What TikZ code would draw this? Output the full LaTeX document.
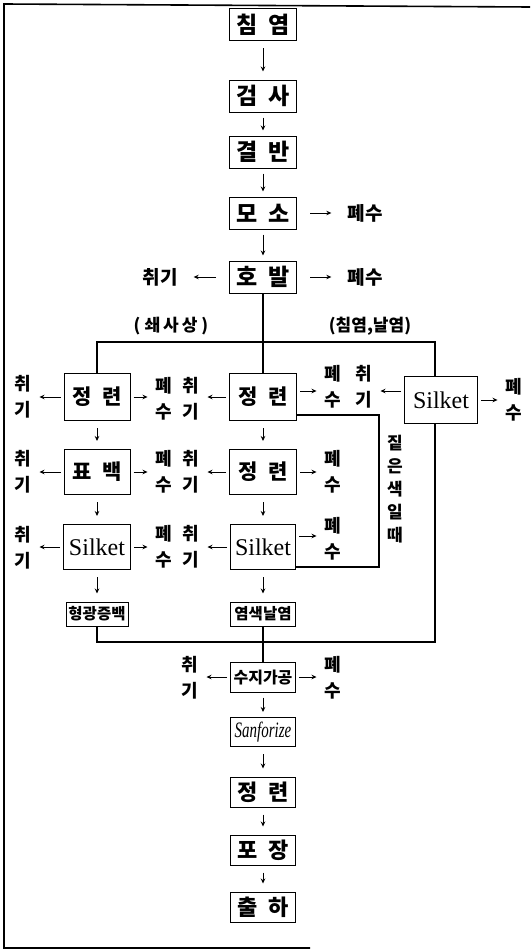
\documentclass[tikz,border=0pt]{standalone}
\usepackage{fontspec}
\usepackage{graphicx}
\setmainfont{Liberation Serif}
\newfontfamily\krfont{Noto Sans CJK KR}
\usetikzlibrary{arrows.meta}
\newcommand{\kgap}{\hspace{11pt}}
\begin{document}
\begin{tikzpicture}[x=1pt,y=-1pt,
  box/.style={draw,line width=1pt,minimum width=67pt,minimum height=32pt,inner sep=0pt,font=\krfont\bfseries\fontsize{23}{23}\selectfont},
  rbox/.style={box,minimum width=66pt,minimum height=47pt,font=\krfont\bfseries\fontsize{21}{21}\selectfont},
  sil/.style={box,minimum height=46pt,font=\mdseries\fontsize{24}{24}\selectfont},
  sbox/.style={box,minimum width=64pt,minimum height=24pt,font=\krfont\bfseries\fontsize{15.5}{15.5}\selectfont},
  lab/.style={inner sep=0pt,align=center,font=\krfont\bfseries\fontsize{18}{26}\selectfont},
  hlab/.style={inner sep=0pt,font=\krfont\bfseries\fontsize{19}{19}\selectfont},
  plab/.style={inner sep=0pt,font=\krfont\bfseries\fontsize{17}{17}\selectfont},
  arr/.style={line width=0.8pt,-{Stealth[length=5pt,width=4.5pt]}},
  harr/.style={arr,shorten <=3pt,shorten >=8pt},
  harrW/.style={arr,shorten <=13pt,shorten >=16pt},
  varr/.style={arr,shorten <=7pt,shorten >=8pt},
  sarr/.style={arr,shorten <=5pt,shorten >=5pt},
  conn/.style={line width=1.5pt},
  frame/.style={line width=1.6pt}
]
\useasboundingbox (0,0) rectangle (530,950);
% frame
\draw[frame] (530,7) -- (4,4) -- (4,948) -- (310,948);

% main column top
\node[box] (chim) at (263,25) {침\kgap 염};
\node[box] (geom) at (263,96) {검\kgap 사};
\node[box] (gyeol) at (263,152) {결\kgap 반};
\node[box] (moso) at (263,213) {모\kgap 소};
\node[box] (hobal) at (263,277) {호\kgap 발};
\draw[varr] (chim) -- (geom);
\draw[sarr] (geom) -- (gyeol);
\draw[sarr] (gyeol) -- (moso);
\draw[sarr] (moso) -- (hobal);

\node[hlab] (mosoW) at (365,213) {폐수};
\node[hlab] (hobalW) at (365,277) {폐수};
\node[hlab] (hobalA) at (160,277) {취기};
\draw[harrW] (moso) -- (mosoW);
\draw[harrW] (hobal) -- (hobalW);
\draw[harrW] (hobal) -- (hobalA);

\node[plab] (pl1) at (171,326) {(\hspace{4pt}쇄\hspace{3pt}사\hspace{3pt}상\hspace{4pt})};
\node[plab] (pl2) at (370,326) {(침염,날염)};

% row 1
\node[rbox] (L1) at (97,397) {정\kgap 련};
\node[rbox,minimum width=67pt] (C1) at (263,397) {정\kgap 련};
\node[sil,minimum width=73pt,minimum height=47pt] (R1) at (441,400) {Silket};
\node[lab] (L1a) at (23,397) {취\\기};
\node[lab] (L1w) at (164,399) {폐\\수};
\node[lab] (C1a) at (191,399) {취\\기};
\node[lab] (C1w) at (333,387) {폐\\수};
\node[lab] (R1a) at (364,387) {취\\기};
\node[lab] (R1w) at (514,400) {폐\\수};
\coordinate (c1e) at (297,391);
\coordinate (r1w) at (404,391);
\draw[harr] (L1.west) -- (L1.west -| L1a.east);
\draw[harr] (L1.east) -- (L1.east -| L1w.west);
\draw[harr] (C1.west) -- (C1.west -| C1a.east);
\draw[harr] (c1e) -- (c1e -| C1w.west);
\draw[harr] (r1w) -- (r1w -| R1a.east);
\draw[harr] (R1.east) -- (R1.east -| R1w.west);

% split from 호발
\coordinate (sL) at (97,342);
\coordinate (sR) at (435,342);
\draw[conn] (hobal.south) -- (C1.north);
\draw[conn] (L1.north) -- (sL) -- (sR) -- (sR |- R1.north);

% row 2
\node[rbox,minimum height=45pt] (L2) at (97,472) {표\kgap 백};
\node[rbox,minimum width=67pt,minimum height=45pt] (C2) at (263,472) {정\kgap 련};
\node[lab] (L2a) at (23,472) {취\\기};
\node[lab] (L2w) at (164,472) {폐\\수};
\node[lab] (C2a) at (191,472) {취\\기};
\node[lab] (C2w) at (333,472) {폐\\수};
\draw[harr] (L2.west) -- (L2.west -| L2a.east);
\draw[harr] (L2.east) -- (L2.east -| L2w.west);
\draw[harr] (C2.west) -- (C2.west -| C2a.east);
\draw[harr] (C2.east) -- (C2.east -| C2w.west);
\draw[varr] (L1) -- (L2);
\draw[varr] (C1) -- (C2);

% row 3
\node[sil,minimum width=67pt,minimum height=45pt] (L3) at (97,547) {Silket};
\node[sil,minimum width=65pt,minimum height=45pt] (C3) at (263,547) {Silket};
\node[lab] (L3a) at (23,548) {취\\기};
\node[lab] (L3w) at (164,547) {폐\\수};
\node[lab] (C3a) at (191,547) {취\\기};
\node[lab] (C3w) at (333,539) {폐\\수};
\coordinate (c3e) at (296,536);
\draw[harr] (L3.west) -- (L3.west -| L3a.east);
\draw[harr] (L3.east) -- (L3.east -| L3w.west);
\draw[harr] (C3.west) -- (C3.west -| C3a.east);
\draw[harr] (c3e) -- (c3e -| C3w.west);
\draw[varr] (L2) -- (L3);
\draw[varr] (C2) -- (C3);

% dark-colour loop
\coordinate (lp1) at (379,415);
\coordinate (lp2) at (379,567);
\draw[conn] (C1.east |- lp1) -- (lp1) -- (lp2) -- (C3.east |- lp2);
\node[lab,font=\krfont\bfseries\fontsize{17}{23}\selectfont] (dark) at (395,489) {짙\\은\\색\\일\\때};

% row 4
\node[sbox,minimum width=62pt] (L4) at (97,614) {형광증백};
\node[sbox,minimum width=65pt] (C4) at (263,614) {염색날염};
\draw[varr] (L3) -- (L4);
\draw[varr] (C3) -- (C4);

% merge
\coordinate (mR) at (435,642);
\node[box,minimum width=65pt,minimum height=30pt,font=\krfont\bfseries\fontsize{16}{16}\selectfont] (suji) at (263,677) {수지가공};
\draw[conn] (R1.south -| mR) -- (mR) -- (mR -| L4.south) -- (L4.south);
\draw[conn] (C4.south) -- (suji.north);
\node[lab] (Sa) at (190,678) {취\\기};
\node[lab] (Sw) at (333,678) {폐\\수};
\draw[harr] (suji.west) -- (suji.west -| Sa.east);
\draw[harr] (suji.east) -- (suji.east -| Sw.west);

% bottom column
\node[box,minimum width=65pt,minimum height=29pt,font=\mdseries\fontsize{22}{22}\selectfont] (sanf) at (263,732) {\scalebox{0.68}[1]{\itshape Sanforize}};
\node[box,minimum width=65pt,minimum height=30pt,font=\krfont\bfseries\fontsize{22}{22}\selectfont] (jr) at (263,792) {정\kgap 련};
\node[box,minimum width=65pt,minimum height=30pt,font=\krfont\bfseries\fontsize{22}{22}\selectfont] (pj) at (263,850) {포\kgap 장};
\node[box,minimum width=65pt,minimum height=30pt,font=\krfont\bfseries\fontsize{22}{22}\selectfont] (ch) at (263,907) {출\kgap 하};
\draw[sarr] (suji) -- (sanf);
\draw[varr] (sanf) -- (jr);
\draw[varr] (jr) -- (pj);
\draw[varr] (pj) -- (ch);
\end{tikzpicture}
\end{document}
